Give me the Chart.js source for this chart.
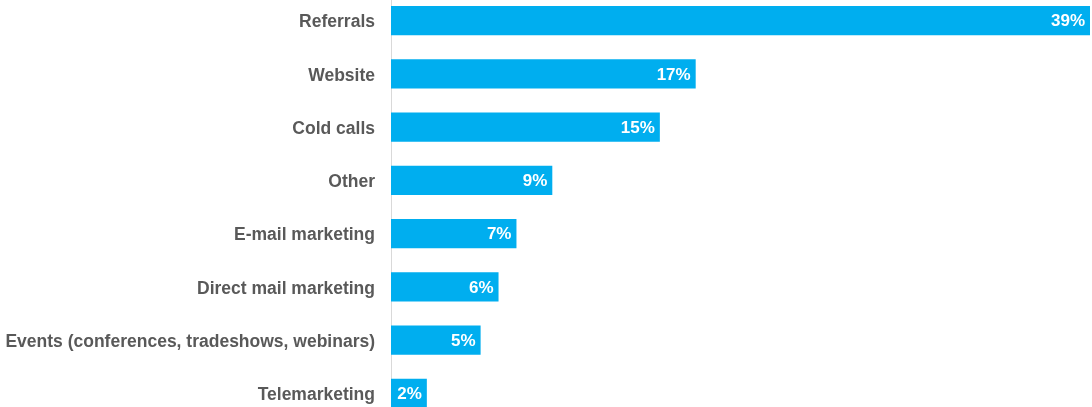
<!DOCTYPE html>
<html>
<head>
<meta charset="utf-8">
<script src="https://cdn.jsdelivr.net/npm/chart.js@4/dist/chart.umd.min.js"></script>
<style>
  html, body { margin: 0; padding: 0; background: #fff; overflow: hidden; }
  #chart { position: absolute; left: 0; top: -6px; }
</style>
</head>
<body>
<canvas id="chart" width="1092" height="426"></canvas>
<script>
// lead sources, share of new business (%)
const sources = [
  'Referrals',
  'Website',
  'Cold calls',
  'Other',
  'E-mail marketing',
  'Direct mail marketing',
  'Events (conferences, tradeshows, webinars)',
  'Telemarketing'
];
const shares = [39, 17, 15, 9, 7, 6, 5, 2];

const BLUE = '#00aeef';
const LABEL_GREY = '#595959';
const FONT = '"Liberation Sans", Arial, sans-serif';

// writes the percentage inside the right end of each bar
const barValues = {
  id: 'barValues',
  afterDatasetsDraw(chart) {
    const ctx = chart.ctx;
    const meta = chart.getDatasetMeta(0);
    ctx.save();
    ctx.font = 'bold 17px ' + FONT;
    ctx.fillStyle = '#ffffff';
    ctx.textAlign = 'right';
    ctx.textBaseline = 'middle';
    meta.data.forEach((bar, i) => {
      ctx.fillText(shares[i] + '%', bar.x - 5, bar.y + 1);
    });
    ctx.restore();
  }
};

new Chart(document.getElementById('chart'), {
  type: 'bar',
  data: {
    labels: sources,
    datasets: [{
      data: shares,
      backgroundColor: BLUE,
      borderWidth: 0,
      categoryPercentage: 1,
      barPercentage: 0.545
    }]
  },
  options: {
    indexAxis: 'y',
    responsive: false,
    animation: false,
    layout: { padding: { top: 0, right: 2, bottom: 0, left: 0 } },
    plugins: {
      legend: { display: false },
      tooltip: { enabled: false }
    },
    scales: {
      x: {
        display: false,
        min: 0,
        max: 39
      },
      y: {
        afterFit(scale) {
          scale.width = 391;
          scale.paddingTop = 0;
          scale.paddingBottom = 0;
        },
        grid: { display: false, drawTicks: false },
        border: { display: true, color: '#d9d9d9', width: 1 },
        ticks: {
          color: LABEL_GREY,
          padding: 16,
          labelOffset: 2,
          font: { family: FONT, size: 17.5, weight: 'bold' }
        }
      }
    }
  },
  plugins: [barValues]
});
</script>
</body>
</html>
